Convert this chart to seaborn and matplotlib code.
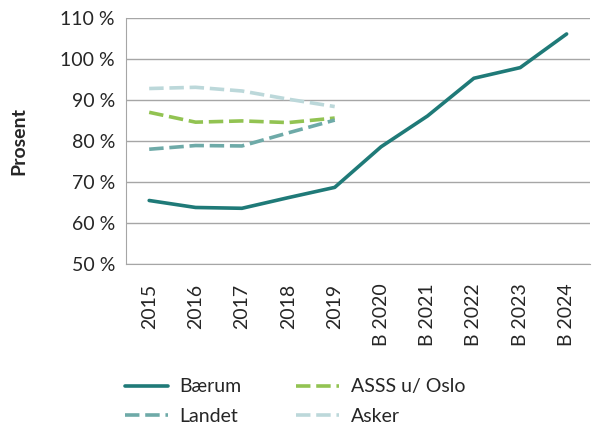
import pandas as pd
import numpy as np
import seaborn as sns
import matplotlib.pyplot as plt

years = ["2015", "2016", "2017", "2018", "2019",
         "B 2020", "B 2021", "B 2022", "B 2023", "B 2024"]
baerum = [65.5, 63.8, 63.6, 66.2, 68.7, 78.6, 86.1, 95.3, 97.9, 106.1]
asss = [87.0, 84.6, 84.9, 84.5, 85.6]
landet = [78.0, 78.9, 78.8, 82.0, 85.1]
asker = [92.8, 93.1, 92.2, 90.2, 88.4]

rows = []
for name, vals in [("Bærum", baerum), ("Landet", landet),
                   ("ASSS u/ Oslo", asss), ("Asker", asker)]:
    for yr, v in zip(years, vals):
        rows.append({"year": yr, "value": v, "series": name})
df = pd.DataFrame(rows)
df["x"] = df["year"].map({y: i for i, y in enumerate(years)})

sns.set_style("white")
plt.rcParams['font.family'] = ['Lato', 'DejaVu Sans']

colors = {"Bærum": "#1f7a78", "Landet": "#6eaaa8",
          "ASSS u/ Oslo": "#92c352", "Asker": "#bcd8da"}
dashes = {"Bærum": "", "Landet": (4, 1.6), "ASSS u/ Oslo": (4, 1.6), "Asker": (4, 1.6)}
order = ["Bærum", "ASSS u/ Oslo", "Landet", "Asker"]

fig = plt.figure(figsize=(6, 4.28), dpi=100)
ax = fig.add_axes([0.21, 0.383, 0.773, 0.575])

sns.lineplot(data=df, x="x", y="value", hue="series", style="series",
             palette=colors, dashes=dashes, hue_order=order, style_order=order,
             linewidth=2.6, ax=ax, legend=False)

fs = 14
ax.set_xlim(-0.5, 9.5)
ax.set_ylim(50, 110)
ax.set_yticks(range(50, 111, 10))
ax.set_yticklabels([f"{v} %" for v in range(50, 111, 10)], fontsize=fs)
ax.set_xticks(range(len(years)))
ax.set_xticklabels(years, rotation=90, fontsize=fs)
ax.set_xlabel("")
ax.set_ylabel("Prosent", fontsize=fs, fontweight="bold", labelpad=24)
ax.grid(axis="y", color="#a6a6a6", linewidth=1)
for s in ["top", "right"]:
    ax.spines[s].set_visible(False)
ax.spines["left"].set_color("#a6a6a6")
ax.spines["bottom"].set_color("#a6a6a6")
ax.tick_params(axis="y", length=4, color="#a6a6a6", pad=4)
ax.tick_params(axis="x", length=0, pad=14)

handles = [plt.Line2D([], [], color=colors[n], linewidth=2.6,
                      linestyle="-" if n == "Bærum" else (0, (4, 1.6)))
           for n in ["Bærum", "Landet", "ASSS u/ Oslo", "Asker"]]
fig.legend(handles, ["Bærum", "Landet", "ASSS u/ Oslo", "Asker"], ncol=2,
           loc="upper left", bbox_to_anchor=(0.195, 0.134), borderaxespad=0,
           frameon=False, fontsize=fs, handlelength=2.2, handletextpad=0.62,
           columnspacing=2.8, labelspacing=0.66)

fig.savefig("out.png", dpi=100)
